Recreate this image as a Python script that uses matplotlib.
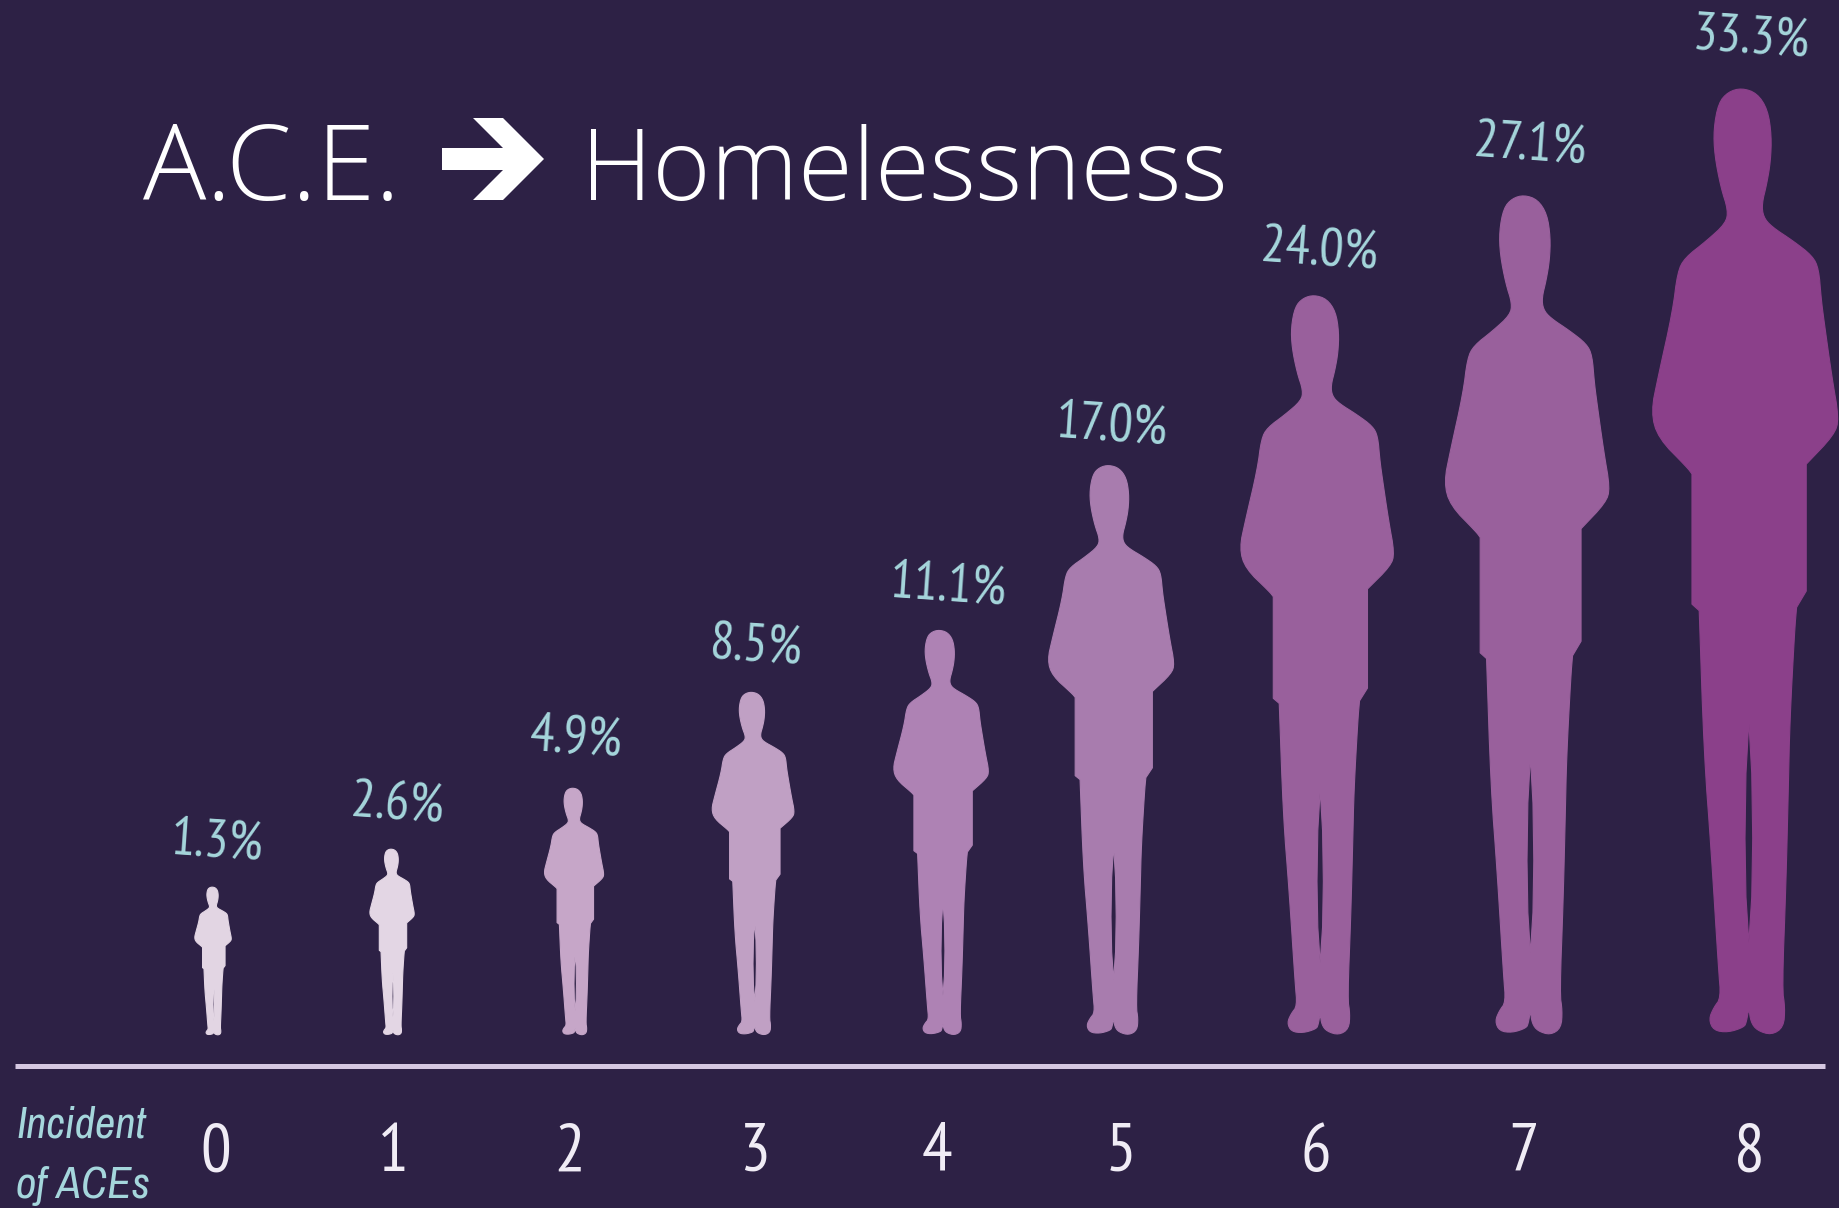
import numpy as np
import matplotlib
matplotlib.use("Agg")
import matplotlib.pyplot as plt
from matplotlib.path import Path
from matplotlib.patches import PathPatch, Polygon

aces = ["0", "1", "2", "3", "4", "5", "6", "7", "8"]
rates = [1.3, 2.6, 4.9, 8.5, 11.1, 17.0, 24.0, 27.1, 33.3]
# pictogram sizes are not proportional to the rate, so they get their own lists
person_heights = [148, 186, 247, 343, 405, 570, 740, 840, 947]
person_widths = [37, 45, 60, 83, 96, 127, 155, 166, 188]

person_x = [213, 392, 574, 753, 941, 1111, 1317, 1527, 1745]
label_x = [217, 397, 576, 756, 948, 1112, 1319, 1530, 1751]
label_y = [843, 805, 740, 648, 587, 427, 251, 146, 40]
tick_x = [216, 393, 570, 754, 937, 1121, 1316, 1524, 1749]
colors = ["#e2d5e3", "#e3d6e4", "#c6a6c8", "#c0a0c4", "#ae82b4", "#a87cae",
          "#99609c", "#99609c", "#8b408a"]

BG = "#2d2145"
TEAL = "#a5d6dc"
BASE_Y = 1035
NARROW = ["PT Sans Narrow", "Archivo Narrow", "Roboto Condensed", "DejaVu Sans"]
NARROW_IT = ["Archivo Narrow", "Roboto Condensed", "DejaVu Sans"]

# outline of one standing person, x around the middle line, y from head down
# repeated points keep the jacket corners from rounding off
outline = [
    (238, 27), (270, 35), (292, 60), (300, 100), (298, 140), (290, 175), (280, 205),
    (283, 225), (300, 240), (345, 262), (385, 285), (398, 305), (403, 350), (408, 380),
    (425, 470), (440, 535), (430, 560), (372, 605), (372, 605), (372, 800), (372, 800),
    (352, 825), (352, 825), (348, 860),
    (338, 1000), (335, 1100), (330, 1250), (322, 1410), (328, 1440), (325, 1470),
    (300, 1482), (270, 1475), (257, 1462), (253, 1440), (248, 1462), (243, 1470),
    (210, 1478), (180, 1475), (170, 1458), (180, 1440), (195, 1425), (190, 1380),
    (175, 1200), (160, 1050), (150, 830), (150, 830), (135, 820), (135, 820),
    (135, 620), (135, 620), (125, 610), (65, 565),
    (50, 525), (65, 470), (95, 370), (105, 310), (120, 288), (165, 262), (205, 235),
    (210, 215), (195, 180), (182, 130), (180, 90), (190, 50), (210, 33),
]
leg_gap = [(253, 1000), (247, 1080), (245, 1180), (247, 1270), (253, 1340),
           (259, 1270), (261, 1180), (259, 1080), (253, 1000)]


def smooth(points, rounds=2):
    # corner cutting on a closed outline
    pts = np.array(points, dtype=float)
    for _ in range(rounds):
        nxt = np.roll(pts, -1, axis=0)
        pts = np.column_stack([0.75 * pts + 0.25 * nxt, 0.25 * pts + 0.75 * nxt]).reshape(-1, 2)
    return pts


body = smooth(outline)
body = np.vstack([body, body[:1]])


def person_path(cx, base, width, height):
    pts = np.vstack([body, np.array(leg_gap, dtype=float)])
    pts[:, 0] = cx + (pts[:, 0] - 245) / 390 * width
    pts[:, 1] = base - (1482 - pts[:, 1]) / 1455 * height
    codes = [Path.LINETO] * len(pts)
    codes[0] = Path.MOVETO
    codes[len(body)] = Path.MOVETO
    return Path(pts, codes)


fig = plt.figure(figsize=(18.4, 12.08), dpi=100, facecolor=BG)
ax = fig.add_axes([0, 0, 1, 1])
ax.set_xlim(0, 1840)
ax.set_ylim(1208, 0)
ax.axis("off")

for i in range(len(rates)):
    path = person_path(person_x[i], BASE_Y, person_widths[i], person_heights[i])
    ax.add_patch(PathPatch(path, facecolor=colors[i], edgecolor=colors[i], lw=0.8, joinstyle="round"))
    ax.text(label_x[i], label_y[i], f"{rates[i]:.1f}%", color=TEAL, fontsize=39,
            family=NARROW, ha="center", va="center", rotation=-4)
    ax.text(tick_x[i], 1154, aces[i], color="#f0ecf5", fontsize=49, family=NARROW, ha="center", va="center")

ax.plot([15, 1825], [1066, 1066], color="#d6c8e2", lw=3.6, solid_capstyle="butt")

ax.text(16, 1125, "Incident", color=TEAL, fontsize=32, style="italic", family=NARROW_IT, ha="left", va="center")
ax.text(16, 1186, "of ACEs", color=TEAL, fontsize=32, style="italic", family=NARROW_IT, ha="left", va="center")

# title, with a block arrow between the two words
title_font = ["Open Sans", "DejaVu Sans"]
ax.text(143, 200, "A.C.E.", color="white", fontsize=76, family=title_font, weight="light", ha="left", va="baseline")
ax.text(581, 200, "Homelessness", color="white", fontsize=71.5, family=title_font, weight="light", ha="left", va="baseline")
arrow = [(442, 148), (503, 148), (473, 118), (503, 118), (544, 159), (503, 200), (473, 200), (503, 170), (442, 170)]
ax.add_patch(Polygon(arrow, closed=True, facecolor="white", edgecolor="none"))

fig.savefig("out.png", dpi=100, facecolor=BG)
